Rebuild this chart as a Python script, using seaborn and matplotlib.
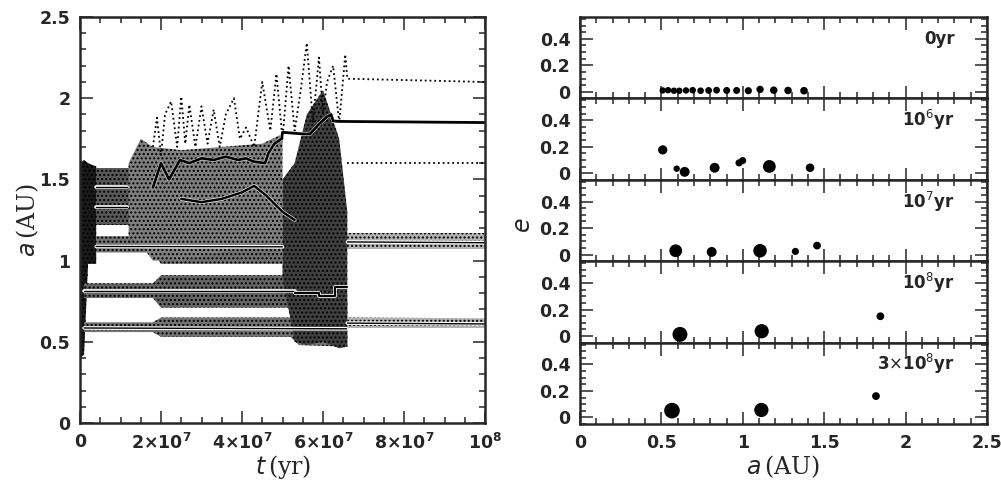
import numpy as np
import pandas as pd
import matplotlib
matplotlib.use("Agg")
import matplotlib.pyplot as plt
import matplotlib.patheffects as pe
import seaborn as sns
from matplotlib.ticker import MultipleLocator, FixedLocator, FixedFormatter

sns.set_style("ticks")
plt.rcParams['font.family'] = ['DejaVu Sans']
plt.rcParams['hatch.linewidth'] = 1.0
plt.rcParams['hatch.color'] = 'black'

# -----------------------------
# left panel: a(t), time in units of 1e7 yr
# -----------------------------
# solid lines = semi-major axis
a_in_t = [0.1, 6.58]
a_in = [0.585, 0.58]
a_in_late_t = [6.6, 10.0]
a_in_late = [0.615, 0.61]

a_mid_t = [0.1, 5.3]
a_mid = [0.815, 0.815]
a_mid_late_t = [5.3, 5.9, 5.9, 6.3, 6.3, 6.6]
a_mid_late = [0.80, 0.80, 0.78, 0.78, 0.84, 0.84]

a_one_t = [0.4, 5.0]
a_one = [1.087, 1.085]
a_one_late_t = [6.6, 10.0]
a_one_late = [1.115, 1.11]

a_d1_t = [0.4, 1.15]
a_d1 = [1.332, 1.332]
a_d2_t = [0.4, 1.15]
a_d2 = [1.451, 1.451]

a_out_t = [1.8, 2.0, 2.2, 2.47, 2.7, 3.0, 3.3, 3.6, 3.9, 4.1, 4.28, 4.57, 4.65, 4.8,
           4.98, 5.0, 5.5, 5.68, 5.9, 6.1, 6.2, 6.25, 6.4, 10.0]
a_out = [1.45, 1.6, 1.5, 1.62, 1.6, 1.63, 1.62, 1.64, 1.62, 1.63, 1.61, 1.6, 1.66, 1.72,
         1.75, 1.79, 1.78, 1.78, 1.84, 1.886, 1.9, 1.86, 1.857, 1.85]

a_x_t = [2.5, 3.0, 3.5, 4.0, 4.3, 4.6, 5.0, 5.3]
a_x = [1.38, 1.36, 1.38, 1.42, 1.46, 1.4, 1.3, 1.25]

# dotted apocentre / pericentre of the outer planet
q_out_t = [1.8, 1.9, 2.0, 2.1, 2.25, 2.4, 2.5, 2.6, 2.7, 2.85, 3.0, 3.15, 3.3, 3.45, 3.6,
           3.8, 3.95, 4.1, 4.3, 4.5, 4.7, 4.85, 5.0, 5.15, 5.3, 5.45, 5.6, 5.75, 5.9,
           6.0, 6.1, 6.25, 6.4, 6.55, 6.6, 10.0]
Q_out = [1.7, 1.88, 1.65, 1.9, 1.98, 1.7, 2.01, 1.72, 1.96, 1.7, 1.95, 1.72, 1.93, 1.7, 1.9,
         2.0, 1.75, 1.82, 1.7, 2.1, 1.8, 2.15, 1.75, 2.2, 1.8, 2.05, 2.34, 1.85, 2.25,
         1.9, 2.1, 2.2, 1.85, 2.27, 2.12, 2.1]
q_out_late_t = [6.6, 10.0]
q_out_late = [1.6, 1.6]

# speckled bands (pericentre..apocentre spread)
band_in_t = [0.1, 1.8, 2.0, 5.2, 5.4, 6.6]
band_in_lo = [0.56, 0.56, 0.53, 0.53, 0.48, 0.47]
band_in_hi = [0.62, 0.62, 0.65, 0.65, 0.75, 0.76]

band_in_late_t = [6.6, 10.0]
band_in_late_lo = [0.585, 0.585]
band_in_late_hi = [0.65, 0.645]

band_mid_t = [0.1, 1.8, 2.0, 5.2, 5.4]
band_mid_lo = [0.77, 0.77, 0.71, 0.71, 0.70]
band_mid_hi = [0.86, 0.86, 0.91, 0.91, 0.90]

band_one_t = [0.4, 1.8, 2.0, 5.0]
band_one_lo = [1.05, 1.05, 0.98, 0.98]
band_one_hi = [1.15, 1.15, 1.18, 1.18]

band_one_late_t = [6.6, 10.0]
band_one_late_lo = [1.07, 1.07]
band_one_late_hi = [1.17, 1.17]

band_d_t = [0.4, 1.2]
band_d_lo = [1.22, 1.22]
band_d_hi = [1.57, 1.57]

band_scat_t = [1.2, 1.5, 1.8, 2.5, 3.5, 4.5, 5.0]
band_scat_lo = [1.15, 1.1, 1.0, 1.0, 1.05, 1.1, 1.05]
band_scat_hi = [1.6, 1.75, 1.7, 1.68, 1.7, 1.72, 1.78]

band_chaos_t = [5.0, 5.3, 5.6, 6.0, 6.4, 6.6]
band_chaos_lo = [0.9, 0.5, 0.48, 0.5, 0.46, 0.47]
band_chaos_hi = [1.5, 1.6, 1.9, 2.05, 1.75, 1.3]

band_start_t = [0.0, 0.1, 0.2, 0.4]
band_start_lo = [0.4, 0.42, 0.98, 0.98]
band_start_hi = [1.6, 1.62, 1.6, 1.58]

# -----------------------------
# right panels: snapshots of (a, e), relative masses
# -----------------------------
snap_labels = ["0yr", "10$^6$yr", "10$^7$yr", "10$^8$yr", "3$\\times$10$^8$yr"]

a_0 = [0.508, 0.541, 0.577, 0.610, 0.651, 0.692, 0.741, 0.790, 0.839, 0.901, 0.962,
       1.034, 1.106, 1.190, 1.278, 1.376]
e_0 = [0.01, 0.012, 0.008, 0.008, 0.01, 0.012, 0.008, 0.01, 0.012, 0.01, 0.01,
       0.008, 0.018, 0.012, 0.01, 0.008]
m_0 = [1.0, 1.0, 1.0, 1.0, 1.0, 1.1, 1.1, 1.2, 1.2, 1.3, 1.3, 1.4, 1.5, 1.6, 1.6, 1.7]

a_6 = [0.508, 0.594, 0.643, 0.827, 0.977, 0.999, 1.163, 1.413]
e_6 = [0.176, 0.034, 0.01, 0.041, 0.078, 0.095, 0.051, 0.041]
m_6 = [3.0, 1.0, 3.7, 3.7, 1.4, 1.4, 8.0, 2.4]

a_7 = [0.588, 0.809, 1.106, 1.323, 1.456]
e_7 = [0.029, 0.02, 0.029, 0.024, 0.068]
m_7 = [8.0, 3.7, 9.4, 1.4, 1.8]

a_8 = [0.614, 1.116, 1.845]
e_8 = [0.012, 0.036, 0.149]
m_8 = [12.7, 11.0, 1.8]

a_38 = [0.565, 1.114, 1.818]
e_38 = [0.051, 0.056, 0.161]
m_38 = [14.6, 11.0, 1.8]

snaps = [(a_0, e_0, m_0), (a_6, e_6, m_6), (a_7, e_7, m_7), (a_8, e_8, m_8), (a_38, e_38, m_38)]

# -----------------------------
# figure
# -----------------------------
fig = plt.figure(figsize=(10.01, 4.83), dpi=100)
W, H = 1001.0, 483.0

tick_font = 12.5
label_font = 17


def style_axis(ax):
    for sp in ax.spines.values():
        sp.set_linewidth(1.8)
    ax.tick_params(which="both", direction="in", top=True, right=True, width=1.1,
                   labelsize=tick_font, pad=7)
    ax.tick_params(which="major", length=9)
    ax.tick_params(which="minor", length=4.5)
    for lab in ax.get_xticklabels() + ax.get_yticklabels():
        lab.set_fontweight("bold")


# left panel
axL = fig.add_axes([80 / W, 60 / H, 405 / W, 406 / H])
SC = 1e7


def band(t, lo, hi, shade, hatch="...."):
    axL.fill_between(np.array(t) * SC, lo, hi, facecolor=shade, edgecolor="k",
                     hatch=hatch, linewidth=0)


band(band_start_t, band_start_lo, band_start_hi, "0.1")
band(band_in_t, band_in_lo, band_in_hi, "0.45")
band(band_in_late_t, band_in_late_lo, band_in_late_hi, "0.7")
band(band_mid_t, band_mid_lo, band_mid_hi, "0.4")
band(band_one_t, band_one_lo, band_one_hi, "0.45")
band(band_one_late_t, band_one_late_lo, band_one_late_hi, "0.7")
band(band_d_t, band_d_lo, band_d_hi, "0.35")
band(band_scat_t, band_scat_lo, band_scat_hi, "0.5")
band(band_chaos_t, band_chaos_lo, band_chaos_hi, "0.25")

sns.lineplot(x=np.array(q_out_t) * SC, y=Q_out, ax=axL, color="k", lw=1.3,
             linestyle=":", estimator=None, sort=False)
sns.lineplot(x=np.array(q_out_late_t) * SC, y=q_out_late, ax=axL, color="k", lw=1.3,
             linestyle=":", estimator=None, sort=False)

halo = [pe.Stroke(linewidth=2.6, foreground="white"), pe.Normal()]
solid = [(a_in_t, a_in, 1.0), (a_in_late_t, a_in_late, 1.0), (a_mid_t, a_mid, 1.0),
         (a_mid_late_t, a_mid_late, 1.5), (a_one_t, a_one, 1.0),
         (a_one_late_t, a_one_late, 1.0), (a_d1_t, a_d1, 1.0), (a_d2_t, a_d2, 1.0),
         (a_out_t, a_out, 2.0), (a_x_t, a_x, 1.8)]
for t, a, lw in solid:
    sns.lineplot(x=np.array(t) * SC, y=a, ax=axL, color="k", lw=lw,
                 estimator=None, sort=False, path_effects=halo)

axL.set_xlim(0, 1e8)
axL.set_ylim(0, 2.5)
axL.xaxis.set_major_locator(FixedLocator([0, 2e7, 4e7, 6e7, 8e7, 1e8]))
axL.xaxis.set_major_formatter(FixedFormatter(["0", r"$\mathbf{2{\times}10^7}$",
                                              r"$\mathbf{4{\times}10^7}$",
                                              r"$\mathbf{6{\times}10^7}$",
                                              r"$\mathbf{8{\times}10^7}$",
                                              r"$\mathbf{10^8}$"]))
axL.xaxis.set_minor_locator(MultipleLocator(5e6))
axL.yaxis.set_major_locator(FixedLocator([0, 0.5, 1, 1.5, 2, 2.5]))
axL.yaxis.set_major_formatter(FixedFormatter(["0", "0.5", "1", "1.5", "2", "2.5"]))
axL.yaxis.set_minor_locator(MultipleLocator(0.1))
style_axis(axL)
axL.set_xlabel("")
fig.text(283 / W, 1 - 467 / H, r"$t\,$(yr)", ha="center", va="center",
         fontsize=label_font, family="DejaVu Serif")
fig.text(28 / W, 1 - 220 / H, r"$a\,$(AU)", ha="center", va="center",
         fontsize=label_font, family="DejaVu Serif", rotation=90)

# right panels
panel_h = 407 / 5
for i, (a, e, m) in enumerate(snaps):
    top = 17 + i * panel_h
    ax = fig.add_axes([580 / W, 1 - (top + panel_h) / H, 407 / W, panel_h / H])
    diam = 6.4 * np.cbrt(np.array(m))
    sns.scatterplot(x=a, y=e, s=(diam * 0.72) ** 2, color="k", edgecolor="none",
                    linewidth=0, ax=ax, legend=False)
    ax.set_xlim(0, 2.5)
    ax.set_ylim(-0.05, 0.565)
    ax.xaxis.set_major_locator(MultipleLocator(0.5))
    ax.xaxis.set_minor_locator(MultipleLocator(0.1))
    ax.yaxis.set_major_locator(FixedLocator([0, 0.2, 0.4]))
    ax.yaxis.set_major_formatter(FixedFormatter(["0", "0.2", "0.4"]))
    ax.yaxis.set_minor_locator(MultipleLocator(0.05))
    if i < 4:
        ax.tick_params(labelbottom=False)
    else:
        ax.xaxis.set_major_locator(FixedLocator([0, 0.5, 1, 1.5, 2, 2.5]))
        ax.xaxis.set_major_formatter(FixedFormatter(["0", "0.5", "1", "1.5", "2", "2.5"]))
    style_axis(ax)
    ax.text(2.3, 0.40, snap_labels[i], ha="right", va="center", fontsize=12,
            fontweight="bold")

fig.text(783 / W, 1 - 467 / H, r"$a\,$(AU)", ha="center", va="center",
         fontsize=label_font, family="DejaVu Serif")
fig.text(523 / W, 1 - 225 / H, r"$e$", ha="center", va="center",
         fontsize=label_font, family="DejaVu Serif", rotation=90)

fig.savefig("out.png", dpi=100)
